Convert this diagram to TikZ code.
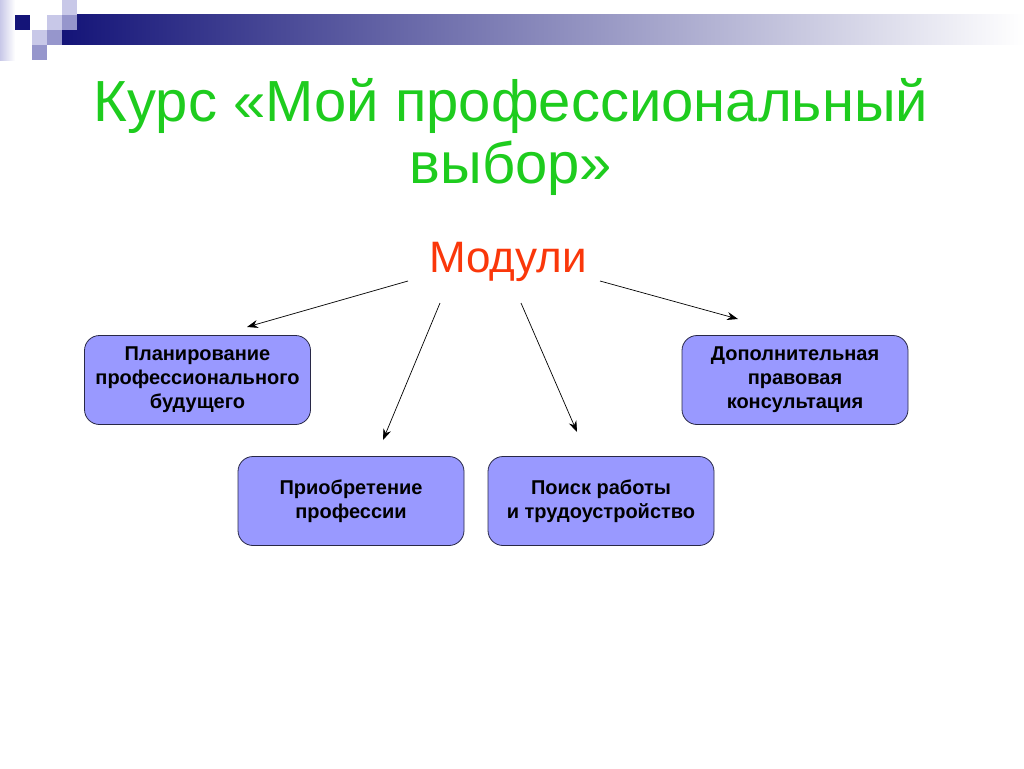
\documentclass[tikz,border=0pt]{standalone}
\usepackage{fontspec}
\setmainfont{Liberation Sans}
\usetikzlibrary{arrows.meta}
\usetikzlibrary{calc}
\definecolor{titlegreen}{RGB}{30,204,30}
\definecolor{modred}{RGB}{250,55,10}
\definecolor{boxfill}{RGB}{153,153,255}
\definecolor{boxline}{RGB}{40,40,70}
\definecolor{navy}{RGB}{20,20,120}
\definecolor{lightsq}{RGB}{200,200,232}
\definecolor{midsq}{RGB}{150,150,204}

\begin{document}
\begin{tikzpicture}[x=1pt, y=-1pt,
  modbox/.style={draw=boxline, fill=boxfill, rounded corners=15pt, line width=0.8pt,
    minimum width=226pt, minimum height=89pt, align=center,
    font=\bfseries\fontsize{20}{24}\selectfont},
  arr/.style={black, line width=0.7pt, -{Stealth[length=11pt,width=8pt]}}]
\useasboundingbox (0,0) rectangle (1024,768);
\fill[white] (0,0) rectangle (1024,768);
% header strip and squares
\shade[left color=lightsq, right color=white] (0,0) rectangle (15,60);
\shade[left color=navy, right color=white] (62,15) rectangle (1024,45);
\fill[navy] (15,15) rectangle ++(15,15);
\fill[lightsq] (62,0) rectangle ++(15,15);
\fill[lightsq] (47,15) rectangle ++(15,15);
\fill[midsq] (62,15) rectangle ++(15,15);
\fill[lightsq] (32,30) rectangle ++(15,15);
\fill[midsq] (47,30) rectangle ++(15,15);
\fill[midsq] (32,45) rectangle ++(15,15);
% title
\node[titlegreen, align=center, font=\fontsize{58}{62}\selectfont, anchor=base] (title) at (511,183)
  {Курс «Мой профессиональный\\выбор»};
\node[modred, font=\fontsize{44}{48}\selectfont, anchor=base] (mod) at (508,272) {Модули};
% modules
\node[modbox] (plan) at (197.5,380) {Планирование\\профессионального\\будущего};
\node[modbox] (prof) at (351,501) {Приобретение\\профессии};
\node[modbox] (job)  at (601,501) {Поиск работы\\и трудоустройство};
\node[modbox] (law)  at (795,380) {Дополнительная\\правовая\\консультация};
% arrows
\coordinate (m1) at (408,281);
\coordinate (m2) at (440,303);
\coordinate (m3) at (521,303);
\coordinate (m4) at (600,281);
\coordinate (e1) at (247,327);
\coordinate (e2) at (383,440);
\coordinate (e3) at (577,432);
\coordinate (e4) at (738,319);
\draw[arr] (m1) -- (e1);
\draw[arr] (m2) -- (e2);
\draw[arr] (m3) -- (e3);
\draw[arr] (m4) -- (e4);
\end{tikzpicture}
\end{document}
